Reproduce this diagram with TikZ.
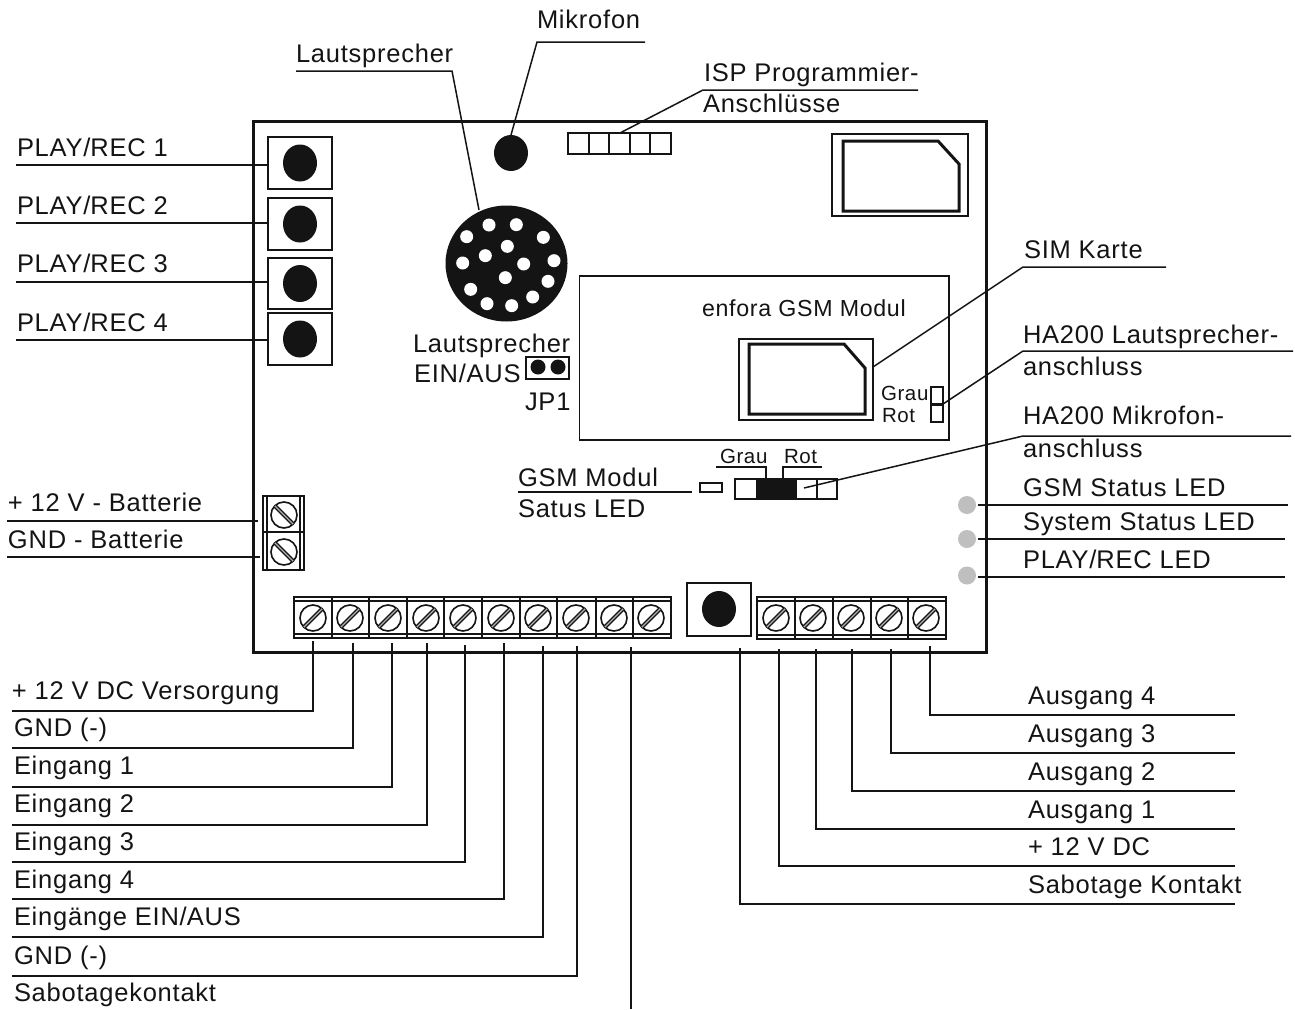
\documentclass[tikz,border=0pt]{standalone}
\usepackage{fontspec}
\setmainfont[LetterSpace=3]{Liberation Sans}
\definecolor{ink}{HTML}{141414}
\definecolor{ledgray}{HTML}{BFBFBF}
\definecolor{slotgray}{HTML}{B0B0B0}
\tikzset{
  every path/.style={color=ink},
  lbl/.style={anchor=base west,inner sep=0pt,outer sep=0pt,text=ink,font=\fontsize{25.5}{30}\selectfont},
  smalllbl/.style={lbl,font=\fontsize{20.5}{24}\selectfont},
  leader/.style={line width=1.5pt},
  boxed/.style={draw=ink,line width=2pt,fill=white,inner sep=0pt,outer sep=0pt,rectangle},
  heavybox/.style={boxed,line width=2.7pt},
  thinbox/.style={draw=ink,line width=1.4pt,fill=white,inner sep=0pt,outer sep=0pt,rectangle},
  dot/.style={draw=none,fill=ink,ellipse,inner sep=0pt,outer sep=0pt,minimum width=34pt,minimum height=37pt},
  hole/.style={draw=none,fill=white,circle,inner sep=0pt,minimum size=13pt},
  screw/.style={draw=ink,line width=1.6pt,circle,fill=white,inner sep=0pt,outer sep=0pt,minimum size=26pt},
  led/.style={draw=none,fill=ledgray,circle,inner sep=0pt,outer sep=0pt,minimum size=18pt},
  slotdark/.style={line width=4pt,line cap=butt},
  slotlight/.style={line width=1.1pt,color=slotgray,line cap=butt},
}
\usetikzlibrary{shapes.geometric}
\newcommand{\rbox}[6]{\node[#1,minimum width={#5-#3},minimum height={#6-#4},anchor=north west] (#2) at (#3,#4) {};}
\begin{document}
\begin{tikzpicture}[x=1pt,y=-1pt]
\useasboundingbox (0,0) rectangle (1295,1009);
\fill[white] (0,0) rectangle (1295,1009);

% board
\node[draw=ink,line width=3pt,rectangle,inner sep=0pt,outer sep=0pt,minimum width=733pt,minimum height=531pt,anchor=north west] (board) at (253,121) {};

% PLAY/REC buttons
\foreach \n/\ya/\yb/\cy/\ly/\by/\t in {A/137/189/163/165/156/PLAY\slash REC 1,B/198/250/224/223/214/PLAY\slash REC 2,C/258/309/283.5/282/272/PLAY\slash REC 3,D/313/365/339/340/331/PLAY\slash REC 4}{
  \rbox{boxed}{btn\n}{268}{\ya}{332}{\yb}
  \node[dot] (cap\n) at (300,\cy) {};
  \node[lbl] (lab\n) at (17,\by) {\t};
  \coordinate (free\n) at (16,\ly);
  \draw[leader] (free\n) -- (free\n -| btn\n.west);
}

% microphone
\node[dot,minimum height=36pt] (mic) at (511,153) {};
\node[lbl] (micl) at (537,28) {Mikrofon};
\coordinate (micr) at (645,42);
\coordinate (mice) at (537,42);
\draw[leader] (micr) -- (mice) -- (mic.north);

% speaker
\node[draw=none,fill=ink,ellipse,inner sep=0pt,outer sep=0pt,minimum width=122pt,minimum height=116pt] (spk) at (506.5,263.5) {};
\foreach \i/\hx/\hy in {1/717/345,2/799/344,3/880/382,4/650/380,5/772/409,6/706/437,7/912/452,8/638/459,9/821/462,10/766/503,11/894/514,12/662/538,13/848/561,14/711/581,15/785/587}{
  \node[hole] (hole\i) at ({\hx/3+250},{\hy/3+110}) {};
}
\node[lbl] (spkl) at (296,62) {Lautsprecher};
\coordinate (spkL) at (296,71);
\coordinate (spkE) at (452,71);
\coordinate (spkT) at (479,210);
\draw[leader] (spkL) -- (spkE) -- (spkT);

% ISP header
\rbox{thinbox}{isp}{568}{133}{671}{154}
\foreach \x in {589,609,630,650}{ \draw[line width=1.4pt] (\x,133) -- (\x,154); }
\node[lbl] (ispa) at (704,81) {ISP Programmier-};
\node[lbl] (ispb) at (703,112) {Anschlüsse};
\coordinate (ispr) at (918,90);
\coordinate (ispe) at (703,90);
\draw[leader] (ispr) -- (ispe) -- (isp.north -| 620,133);

% top right SIM socket
\rbox{heavybox}{simA}{832}{134}{968}{216}
\draw[line width=3pt,line join=miter] (843,141) -- (938,141) -- (959,164) -- (959,211) -- (843,211) -- cycle;

% GSM module
\rbox{thinbox}{gsm}{579.5}{276}{949}{440}
\node[lbl,font=\fontsize{23.2}{28}\selectfont] (gsml) at (702,316) {enfora GSM Modul};
\rbox{heavybox}{simB}{739}{339}{873}{420}
\draw[line width=3pt,line join=miter] (749,344) -- (844,344) -- (865,368) -- (865,414) -- (749,414) -- cycle;
\node[lbl] (siml) at (1024,258) {SIM Karte};
\coordinate (simr) at (1166,267);
\coordinate (sime) at (1023,267);
\draw[leader] (simr) -- (sime) -- (simB.east |- 873,367);

% JP1
\node[lbl] (ja) at (413,352) {Lautsprecher};
\node[lbl] (jb) at (414,382) {EIN/AUS};
\node[lbl] (jc) at (525,410) {JP1};
\rbox{heavybox}{jp}{526}{357}{569}{379}
\node[draw=none,fill=ink,circle,inner sep=0pt,minimum size=15pt] (jpa) at (538,367) {};
\node[draw=none,fill=ink,circle,inner sep=0pt,minimum size=15pt] (jpb) at (558,367) {};

% Grau / Rot in module
\node[smalllbl] (g1) at (881,400) {Grau};
\node[smalllbl] (r1) at (882,422) {Rot};
\rbox{thinbox}{hla}{931}{387}{943}{404}
\rbox{thinbox}{hlb}{931}{405}{943}{422}
\draw[line width=2.5pt] (hla.south west) -- (hla.south east);
\node[lbl] (hla1) at (1023,343) {HA200 Lautsprecher-};
\node[lbl] (hla2) at (1023,375) {anschluss};
\coordinate (hlr) at (1293,351);
\coordinate (hle) at (1023,351);
\draw[leader] (hlr) -- (hle) -- (hla.south east);

% microphone connector strip
\rbox{thinbox}{ms}{735}{479}{837}{499}
\fill[ink] (756,479) rectangle (797,499);
\draw[line width=1.4pt] (817,479) -- (817,499);
\node[smalllbl] (g2) at (720,463) {Grau};
\node[smalllbl] (r2) at (784,463) {Rot};
\coordinate (g2a) at (716,467); \coordinate (g2b) at (766,467); \coordinate (g2c) at (766,479);
\coordinate (r2a) at (822,467); \coordinate (r2b) at (783,467); \coordinate (r2c) at (783,479);
\draw[line width=1.2pt] (g2a) -- (g2b) -- (g2c);
\draw[line width=1.2pt] (r2a) -- (r2b) -- (r2c);
\node[lbl] (hm1) at (1023,424) {HA200 Mikrofon-};
\node[lbl] (hm2) at (1023,457) {anschluss};
\coordinate (hmr) at (1291,436);
\coordinate (hme) at (1023,436);
\coordinate (hms) at (804,488);
\draw[leader] (hmr) -- (hme) -- (hms);

% GSM status LED
\rbox{thinbox}{sled}{700}{483}{722}{492}
\node[lbl] (sl1) at (518,486) {GSM Modul};
\node[lbl] (sl2) at (518,517) {Satus LED};
\coordinate (sll) at (518,492);
\coordinate (slr) at (692,492);
\draw[leader] (sll) -- (slr);

% right LEDs
\foreach \n/\cy/\ly/\r/\by/\t in {a/505/505/1288/496.3/GSM Status LED,b/539/539/1285/530.3/System Status LED,c/575.5/577/1285/568.3/PLAY\slash REC LED}{
  \node[led] (led\n) at (967,\cy) {};
  \node[lbl] (ledl\n) at (1023,\by) {\t};
  \coordinate (ledr\n) at (\r,\ly);
  \coordinate (lede\n) at (978,\ly);
  \draw[leader] (lede\n) -- (ledr\n);
}

% battery terminal
\rbox{thinbox}{bat}{263}{496}{304}{570}
\draw[line width=1.2pt] (267,496) -- (267,570) (300,496) -- (300,570);
\draw[line width=1.4pt] (263,532) -- (304,532);
\foreach \n/\cy/\ly/\lx/\by/\t in {a/515/521/258/511/+ 12 V - Batterie,b/552/557/260/548/GND - Batterie}{
  \node[screw] (bs\n) at (284,\cy) {};
  \draw[slotdark] (bs\n.135) -- (bs\n.315);
  \draw[slotlight] (bs\n.135) -- (bs\n.315);
  \node[lbl] (bl\n) at (8,\by) {\t};
  \coordinate (bf\n) at (7,\ly);
  \coordinate (be\n) at (\lx,\ly);
  \draw[leader] (bf\n) -- (be\n);
}

% left terminal strip
\rbox{boxed}{tl}{294}{597}{671}{638}
\draw[line width=1.2pt] (294,601) -- (671,601) (294,634) -- (671,634);
\foreach \x in {332,369,407,444,482,520,557,596,633}{ \draw[line width=1.6pt] (\x,597) -- (\x,638); }
\foreach \i/\x in {1/313,2/350,3/388,4/426,5/463,6/501,7/538,8/576,9/614,10/651}{
  \node[screw] (sl\i) at (\x,618) {};
  \draw[slotdark] (sl\i.45) -- (sl\i.225);
  \draw[slotlight] (sl\i.45) -- (sl\i.225);
}

% right terminal strip
\rbox{boxed}{tr}{757}{597}{946}{639}
\draw[line width=1.2pt] (757,601) -- (946,601) (757,635) -- (946,635);
\foreach \x in {795,833,871,908}{ \draw[line width=1.6pt] (\x,597) -- (\x,639); }
\foreach \i/\x in {1/776,2/813,3/851,4/889,5/926}{
  \node[screw] (sr\i) at (\x,618) {};
  \draw[slotdark] (sr\i.45) -- (sr\i.225);
  \draw[slotlight] (sr\i.45) -- (sr\i.225);
}

% sabotage button
\rbox{boxed}{sab}{687}{583}{751}{636}
\node[dot,minimum height=36pt] (sabc) at (719,609) {};

% bottom left leaders
\foreach \i/\x/\top/\y/\by/\t in {1/313/641/711/699.3/+ 12 V DC Versorgung,2/353/643/748/736.3/GND (-),3/392/643/787/774.3/Eingang 1,4/427/643/825/812.3/Eingang 2,5/465/645/862/850.3/Eingang 3,6/504/643/899/888.3/Eingang 4,7/543/646/937/925.3/Eingänge EIN\slash AUS,8/577/646/976/964.3/GND (-)}{
  \node[lbl] (ll\i) at ({\i==1 ? 12 : 14},\by) {\t};
  \coordinate (lt\i) at (\x,\top);
  \coordinate (lc\i) at (\x,\y);
  \coordinate (le\i) at (12,\y);
  \draw[leader] (lt\i) -- (lc\i) -- (le\i);
}
\node[lbl] (ll9) at (14,1001.3) {Sabotagekontakt};
\coordinate (lt9) at (631,647);
\coordinate (le9) at (631,1009);
\draw[leader] (lt9) -- (le9);

% bottom right leaders
\foreach \i/\x/\top/\y/\by/\t in {1/740/648/904/893.3/Sabotage Kontakt,2/779/649/866/855.3/+ 12 V DC,3/816/649/829/818.3/Ausgang 1,4/852/649/791/780.3/Ausgang 2,5/891/649/753/742.3/Ausgang 3,6/930/646/715/704.3/Ausgang 4}{
  \node[lbl] (rl\i) at (1028,\by) {\t};
  \coordinate (rt\i) at (\x,\top);
  \coordinate (rc\i) at (\x,\y);
  \coordinate (re\i) at (1235,\y);
  \draw[leader] (rt\i) -- (rc\i) -- (re\i);
}
\end{tikzpicture}
\end{document}
